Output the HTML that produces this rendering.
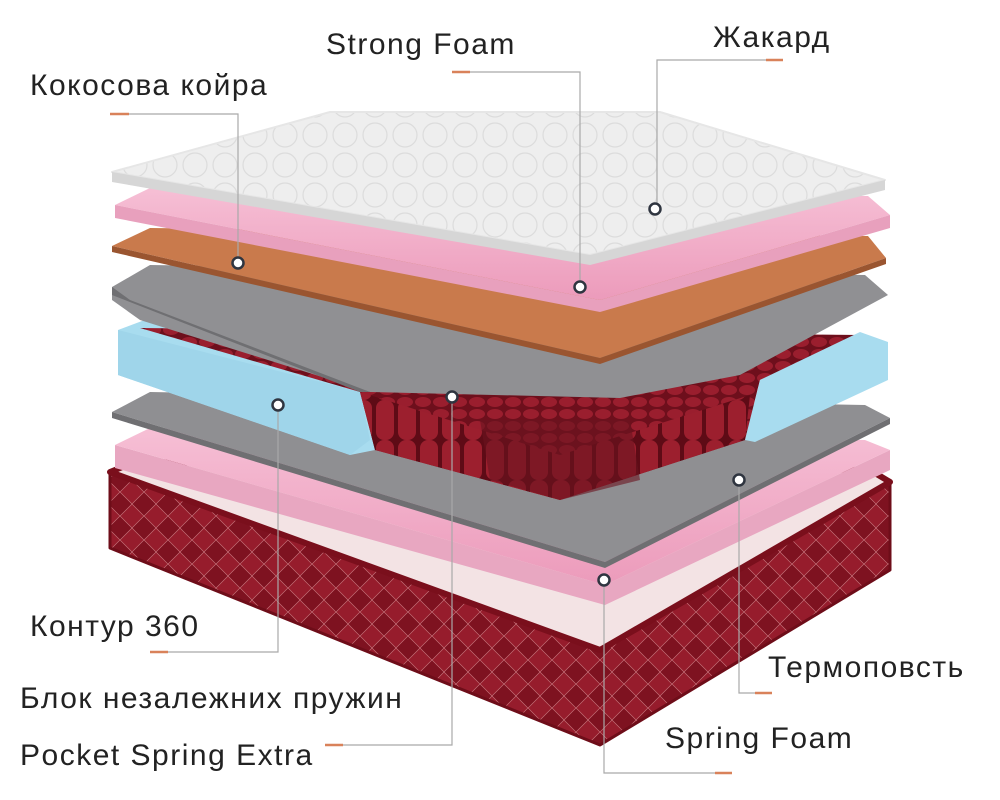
<!DOCTYPE html>
<html><head><meta charset="utf-8"><style>
html,body{margin:0;padding:0;background:#fff;}
svg{display:block}
text{font-family:"Liberation Sans","DejaVu Sans",sans-serif;font-size:30px;fill:#222;letter-spacing:1.5px}
</style></head><body>
<svg width="1000" height="800" viewBox="0 0 1000 800" xmlns="http://www.w3.org/2000/svg">
<defs>
<pattern id="quilt" width="24" height="24" patternUnits="userSpaceOnUse">
<rect width="24" height="24" fill="#7e1220"/>
<path d="M0 12 L12 0 L24 12 L12 24 Z" fill="#961c2c" stroke="#c9777f" stroke-width="0.6"/>
</pattern>
<pattern id="springs" width="18" height="12" patternUnits="userSpaceOnUse">
<rect width="18" height="12" fill="#6e0f1c"/>
<ellipse cx="9" cy="6" rx="8" ry="5" fill="#9a1e2e"/>
</pattern>
<pattern id="cols" width="22" height="40" patternUnits="userSpaceOnUse">
<rect width="22" height="40" fill="#5e0b16"/>
<rect x="2" width="18" height="40" rx="8" fill="#9c1f2e"/>
</pattern>
<pattern id="quiltw" width="30" height="30" patternUnits="userSpaceOnUse">
<rect width="30" height="30" fill="#eeeeee"/>
<circle cx="15" cy="15" r="12" fill="none" stroke="#dcdcdc" stroke-width="1.2"/>
</pattern>
<linearGradient id="pink" x1="0" y1="0" x2="0" y2="1"><stop offset="0" stop-color="#f6bfd5"/><stop offset="1" stop-color="#ec9bbb"/></linearGradient>
</defs>

<!-- base -->
<polygon points="110,472 110,548 600,745 890,570 890,482 600,650" fill="url(#quilt)" stroke="#6e0d19" stroke-width="3" stroke-linejoin="round"/>
<polygon points="110,472 135,462 870,470 890,482 600,650" fill="#f3e3e4" stroke="#7a0f1c" stroke-width="6" stroke-linejoin="round"/>

<!-- pink 2 -->
<polygon points="115,445 115,468 605,605 890,470 890,450 605,585" fill="#e8a7c1"/>
<polygon points="115,445 150,428 865,440 890,450 605,585" fill="url(#pink)" stroke-linejoin="round"/>

<!-- grey 2 -->
<polygon points="112,412 150,392 865,405 890,418 605,562" fill="#8f8f92"/>
<polygon points="112,412 112,418 605,568 890,424 890,418 605,562" fill="#6f6f72"/>

<!-- blue left -->
<polygon points="118,330 150,318 370,395 375,450 350,455 118,375" fill="#a8dcef"/>
<polygon points="118,330 118,375 350,455 370,440 360,392" fill="#9fd5ea"/>
<!-- spring block -->
<polygon points="140,328 860,335 760,380 745,440 560,500 375,450 360,392" fill="url(#springs)"/>
<polygon points="360,392 375,450 560,500 745,440 750,395 560,455" fill="url(#cols)"/>
<polygon points="480,420 630,420 640,480 560,500 490,480" fill="#6a1420" opacity="0.6"/>
<!-- blue right -->
<polygon points="760,380 860,332 888,342 888,380 755,442 745,440" fill="#a8dcef"/>

<!-- grey 1 -->
<polygon points="112,287 150,265 865,275 888,295 740,375 620,398 370,392 140,320 112,300" fill="#909093"/>
<polygon points="112,287 112,295 360,392 370,392 130,300" fill="#6f6f72"/>

<!-- cork -->
<polygon points="112,246 150,228 868,236 886,258 600,358" fill="#c97a4c"/>
<polygon points="112,246 112,252 600,364 886,264 886,258 600,358" fill="#9a5530"/>

<!-- pink 1 -->
<polygon points="115,205 150,188 868,196 890,215 600,300" fill="url(#pink)"/>
<polygon points="115,205 115,218 600,312 890,228 890,215 600,300" fill="#e8a0bd"/>

<!-- white top -->
<polygon points="112,172 330,112 660,112 885,180 590,255" fill="url(#quiltw)" stroke="#e6e6e6" stroke-width="2" stroke-linejoin="round"/>
<polygon points="112,172 112,182 590,265 885,190 885,180 590,255" fill="#d6d6d6"/>

<!-- leader lines -->
<g stroke="#a9a9a9" stroke-width="1.2" fill="none">
<polyline points="129,114 238,114 238,263"/>
<polyline points="470,72 580,72 580,287"/>
<polyline points="766,60 657,60 657,209"/>
<polyline points="168,652 278,652 278,405"/>
<polyline points="343,745 452,745 452,397"/>
<polyline points="739,480 739,693 755,693"/>
<polyline points="604,580 604,773 715,773"/>
</g>
<g stroke="#d9825a" stroke-width="2.5">
<line x1="110" y1="114" x2="129" y2="114"/>
<line x1="452" y1="72" x2="470" y2="72"/>
<line x1="766" y1="60" x2="783" y2="60"/>
<line x1="150" y1="652" x2="168" y2="652"/>
<line x1="325" y1="745" x2="343" y2="745"/>
<line x1="755" y1="693" x2="772" y2="693"/>
<line x1="715" y1="773" x2="732" y2="773"/>
</g>
<g fill="#fff" stroke="#2f3540" stroke-width="2.5">
<circle cx="238" cy="263" r="5.5"/>
<circle cx="580" cy="287" r="5.5"/>
<circle cx="655" cy="209" r="5.5"/>
<circle cx="278" cy="405" r="5.5"/>
<circle cx="452" cy="397" r="5.5"/>
<circle cx="739" cy="480" r="5.5"/>
<circle cx="604" cy="580" r="5.5"/>
</g>

<text x="30" y="95">Кокосова койра</text>
<text x="326" y="54">Strong Foam</text>
<text x="713" y="47">Жакард</text>
<text x="30" y="636">Контур 360</text>
<text x="20" y="708">Блок незалежних пружин</text>
<text x="20" y="765">Pocket Spring Extra</text>
<text x="768" y="677">Термоповсть</text>
<text x="665" y="748">Spring Foam</text>
</svg>
</body></html>
